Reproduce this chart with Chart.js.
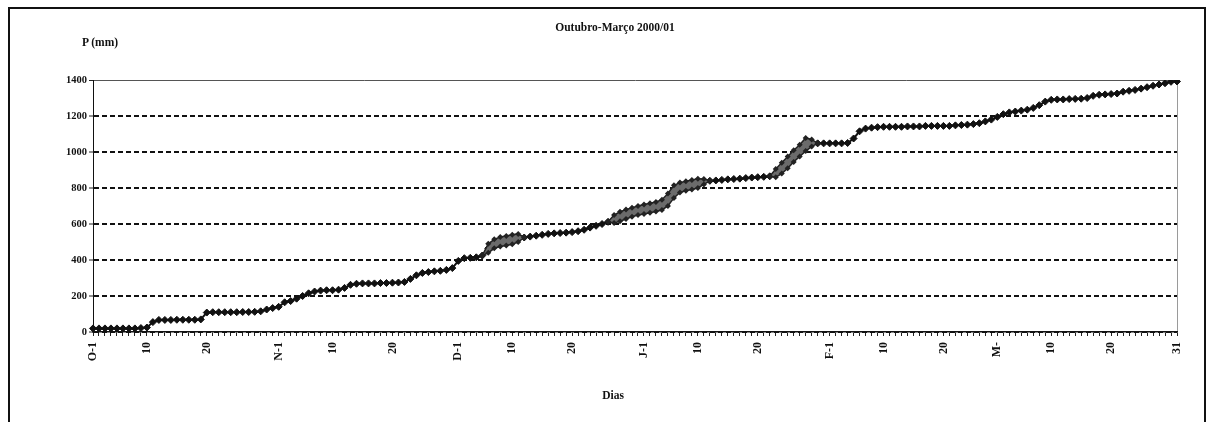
<!DOCTYPE html>
<html>
<head>
<meta charset="utf-8">
<script src="https://cdn.jsdelivr.net/npm/chart.js@4.4.0/dist/chart.umd.min.js"></script>
<style>
  html, body { margin: 0; padding: 0; background: #fff; }
  #wrap { position: relative; width: 1212px; height: 422px; overflow: hidden; background: #fff; }
  #c { position: absolute; left: 0; top: 0; }
  #frame { position: absolute; left: 8px; top: 7px; width: 1198px; height: 440px; border: 2px solid #111; box-sizing: border-box; }
  .txt { position: absolute; font-family: "Liberation Serif", "DejaVu Serif", serif; font-weight: bold; color: #111; white-space: nowrap; }
  #title { left: 615px; top: 21px; font-size: 11.5px; transform: translateX(-50%); }
  #ylab { left: 82px; top: 36px; font-size: 11.5px; }
  #xlab { left: 613px; top: 389px; font-size: 11.5px; transform: translateX(-50%); }
</style>
</head>
<body>
<div id="wrap">
  <canvas id="c" width="1212" height="422"></canvas>
  <div id="frame"></div>
  <div class="txt" id="title">Outubro-Março 2000/01</div>
  <div class="txt" id="ylab">P (mm)</div>
  <div class="txt" id="xlab">Dias</div>
</div>
<script>
// ---- data (cumulative precipitation, mm) ----
const monthCodes = ['O', 'N', 'D', 'J', 'F', 'M'];
const octP = [20,20,20,20,20,20,20,20,22,25, 55,67,67,67,68,68,68,68,70, 108,110,110,110,110,110,111,111,112,115,125, 133];
const novP = [140,165,172,185,200,215,225,230,232,232,235,245,262,268,270,270,270,272,272,274,275,278,295,315,328,333,337,340,345,355];
const decP = [395,410,412,415,425,465,490,500,505,512,520,525,530,535,540,545,548,550,552,555,560,568,580,590,600,612,628,640,655,665,675];
const janP = [680,690,695,705,730,780,800,810,815,825,835,840,842,845,848,850,852,855,858,860,862,865,880,910,940,975,1000,1030,1048,1048,1048];
const febP = [1048,1048,1048,1050,1075,1115,1130,1135,1138,1140,1140,1140,1140,1142,1142,1142,1145,1145,1145,1145,1145,1148,1150,1152,1155,1160,1170,1180];
const marP = [1195,1210,1220,1225,1230,1235,1245,1260,1280,1290,1292,1292,1294,1295,1296,1300,1312,1318,1320,1322,1325,1335,1340,1345,1352,1360,1368,1375,1382,1390,1392];

// shaded bands (start day index, upper edge, lower edge)
const bandStarts = [65, 86, 113];
const bandHighs = [
  [425,490,515,528,533,540,545,525],
  [612,650,668,680,690,700,708,715,722,735,770,815,830,838,845,852,850,840],
  [865,905,940,975,1010,1040,1078,1070,1048]
];
const bandLows = [
  [425,440,465,475,480,488,500,525],
  [612,605,615,628,640,650,655,662,670,678,700,745,775,785,792,800,820,840],
  [865,860,880,910,945,975,1005,1030,1048]
];

// x tick labels
const tickIndex = [0,9,19,31,40,50,61,70,80,92,101,111,123,132,142,151,160,170,181];
const tickText = ['O-1','10','20','N-1','10','20','D-1','10','20','J-1','10','20','F-1','10','20','M-','10','20','31'];
const yTicks = [0,200,400,600,800,1000,1200,1400];

// ---- build ----
const monthSeries = [octP, novP, decP, janP, febP, marP];
const categories = [];
const values = [];
monthSeries.forEach((arr, m) => arr.forEach((v, d) => { categories.push(monthCodes[m] + '-' + (d + 1)); values.push(v); }));
const N = categories.length;
const hi = new Array(N).fill(null);
const lo = new Array(N).fill(null);
bandStarts.forEach((s, b) => {
  bandHighs[b].forEach((v, k) => { hi[s + k] = v; });
  bandLows[b].forEach((v, k) => { lo[s + k] = v; });
});
const tickMap = {};
tickIndex.forEach((i, k) => { tickMap[i] = tickText[k]; });

const serif = "'Liberation Serif', 'DejaVu Serif', serif";

new Chart(document.getElementById('c'), {
  type: 'line',
  data: {
    labels: categories,
    datasets: [
      {
        label: 'P',
        data: values,
        borderColor: '#111',
        borderWidth: 2,
        pointStyle: 'rectRot',
        pointRadius: 3.5,
        pointBackgroundColor: '#111',
        pointBorderColor: '#111',
        pointBorderWidth: 1,
        tension: 0,
        fill: false,
        order: 3
      },
      {
        label: 'hi',
        data: hi,
        borderColor: '#222',
        borderWidth: 1.5,
        pointStyle: 'rectRot',
        pointRadius: 3,
        pointBackgroundColor: '#222',
        pointBorderColor: '#222',
        pointBorderWidth: 0,
        spanGaps: false,
        fill: false,
        order: 1
      },
      {
        label: 'lo',
        data: lo,
        borderColor: '#222',
        borderWidth: 1.5,
        pointStyle: 'rectRot',
        pointRadius: 3,
        pointBackgroundColor: '#222',
        pointBorderColor: '#222',
        pointBorderWidth: 0,
        spanGaps: false,
        fill: '-1',
        backgroundColor: '#6b6b6b',
        order: 2
      }
    ]
  },
  options: {
    responsive: false,
    animation: false,
    devicePixelRatio: 1,
    layout: { padding: { top: 80, right: 35, left: 0, bottom: 0 } },
    plugins: { legend: { display: false }, tooltip: { enabled: false }, title: { display: false } },
    elements: { line: { tension: 0 } },
    scales: {
      x: {
        type: 'category',
        offset: false,
        grid: {
          display: true,
          drawOnChartArea: true,
          drawTicks: true,
          tickLength: 4,
          tickColor: '#222',
          tickWidth: 1,
          color: (ctx) => (ctx.index === N - 1 ? '#9a9a9a' : 'rgba(0,0,0,0)'),
          lineWidth: 1
        },
        border: { display: true, color: '#111', width: 1.5 },
        ticks: {
          autoSkip: false,
          minRotation: 90,
          maxRotation: 90,
          padding: 6,
          color: '#111',
          font: { family: serif, size: 12, weight: 'bold' },
          callback: (v, i) => (tickMap[i] !== undefined ? tickMap[i] : '')
        },
        afterFit: (s) => { s.height = 90; }
      },
      y: {
        min: 0,
        max: 1400,
        afterBuildTicks: (s) => { s.ticks = yTicks.map(v => ({ value: v })); },
        grid: {
          display: true,
          drawTicks: true,
          tickLength: 4,
          tickColor: '#222',
          tickWidth: 1,
          tickBorderDash: [],
          color: (ctx) => (ctx.tick && ctx.tick.value === 1400 ? '#555' : '#111'),
          lineWidth: (ctx) => (ctx.tick && ctx.tick.value === 1400 ? 1 : 2)
        },
        border: {
          display: true,
          color: '#111',
          width: 1,
          dash: (ctx) => (ctx.tick && ctx.tick.value === 1400 ? [] : [5, 3])
        },
        ticks: {
          padding: 2,
          color: '#111',
          font: { family: serif, size: 10.5, weight: 'bold' },
          callback: (v) => String(v)
        },
        afterFit: (s) => { s.width = 93; }
      }
    }
  }
});
</script>
</body>
</html>
